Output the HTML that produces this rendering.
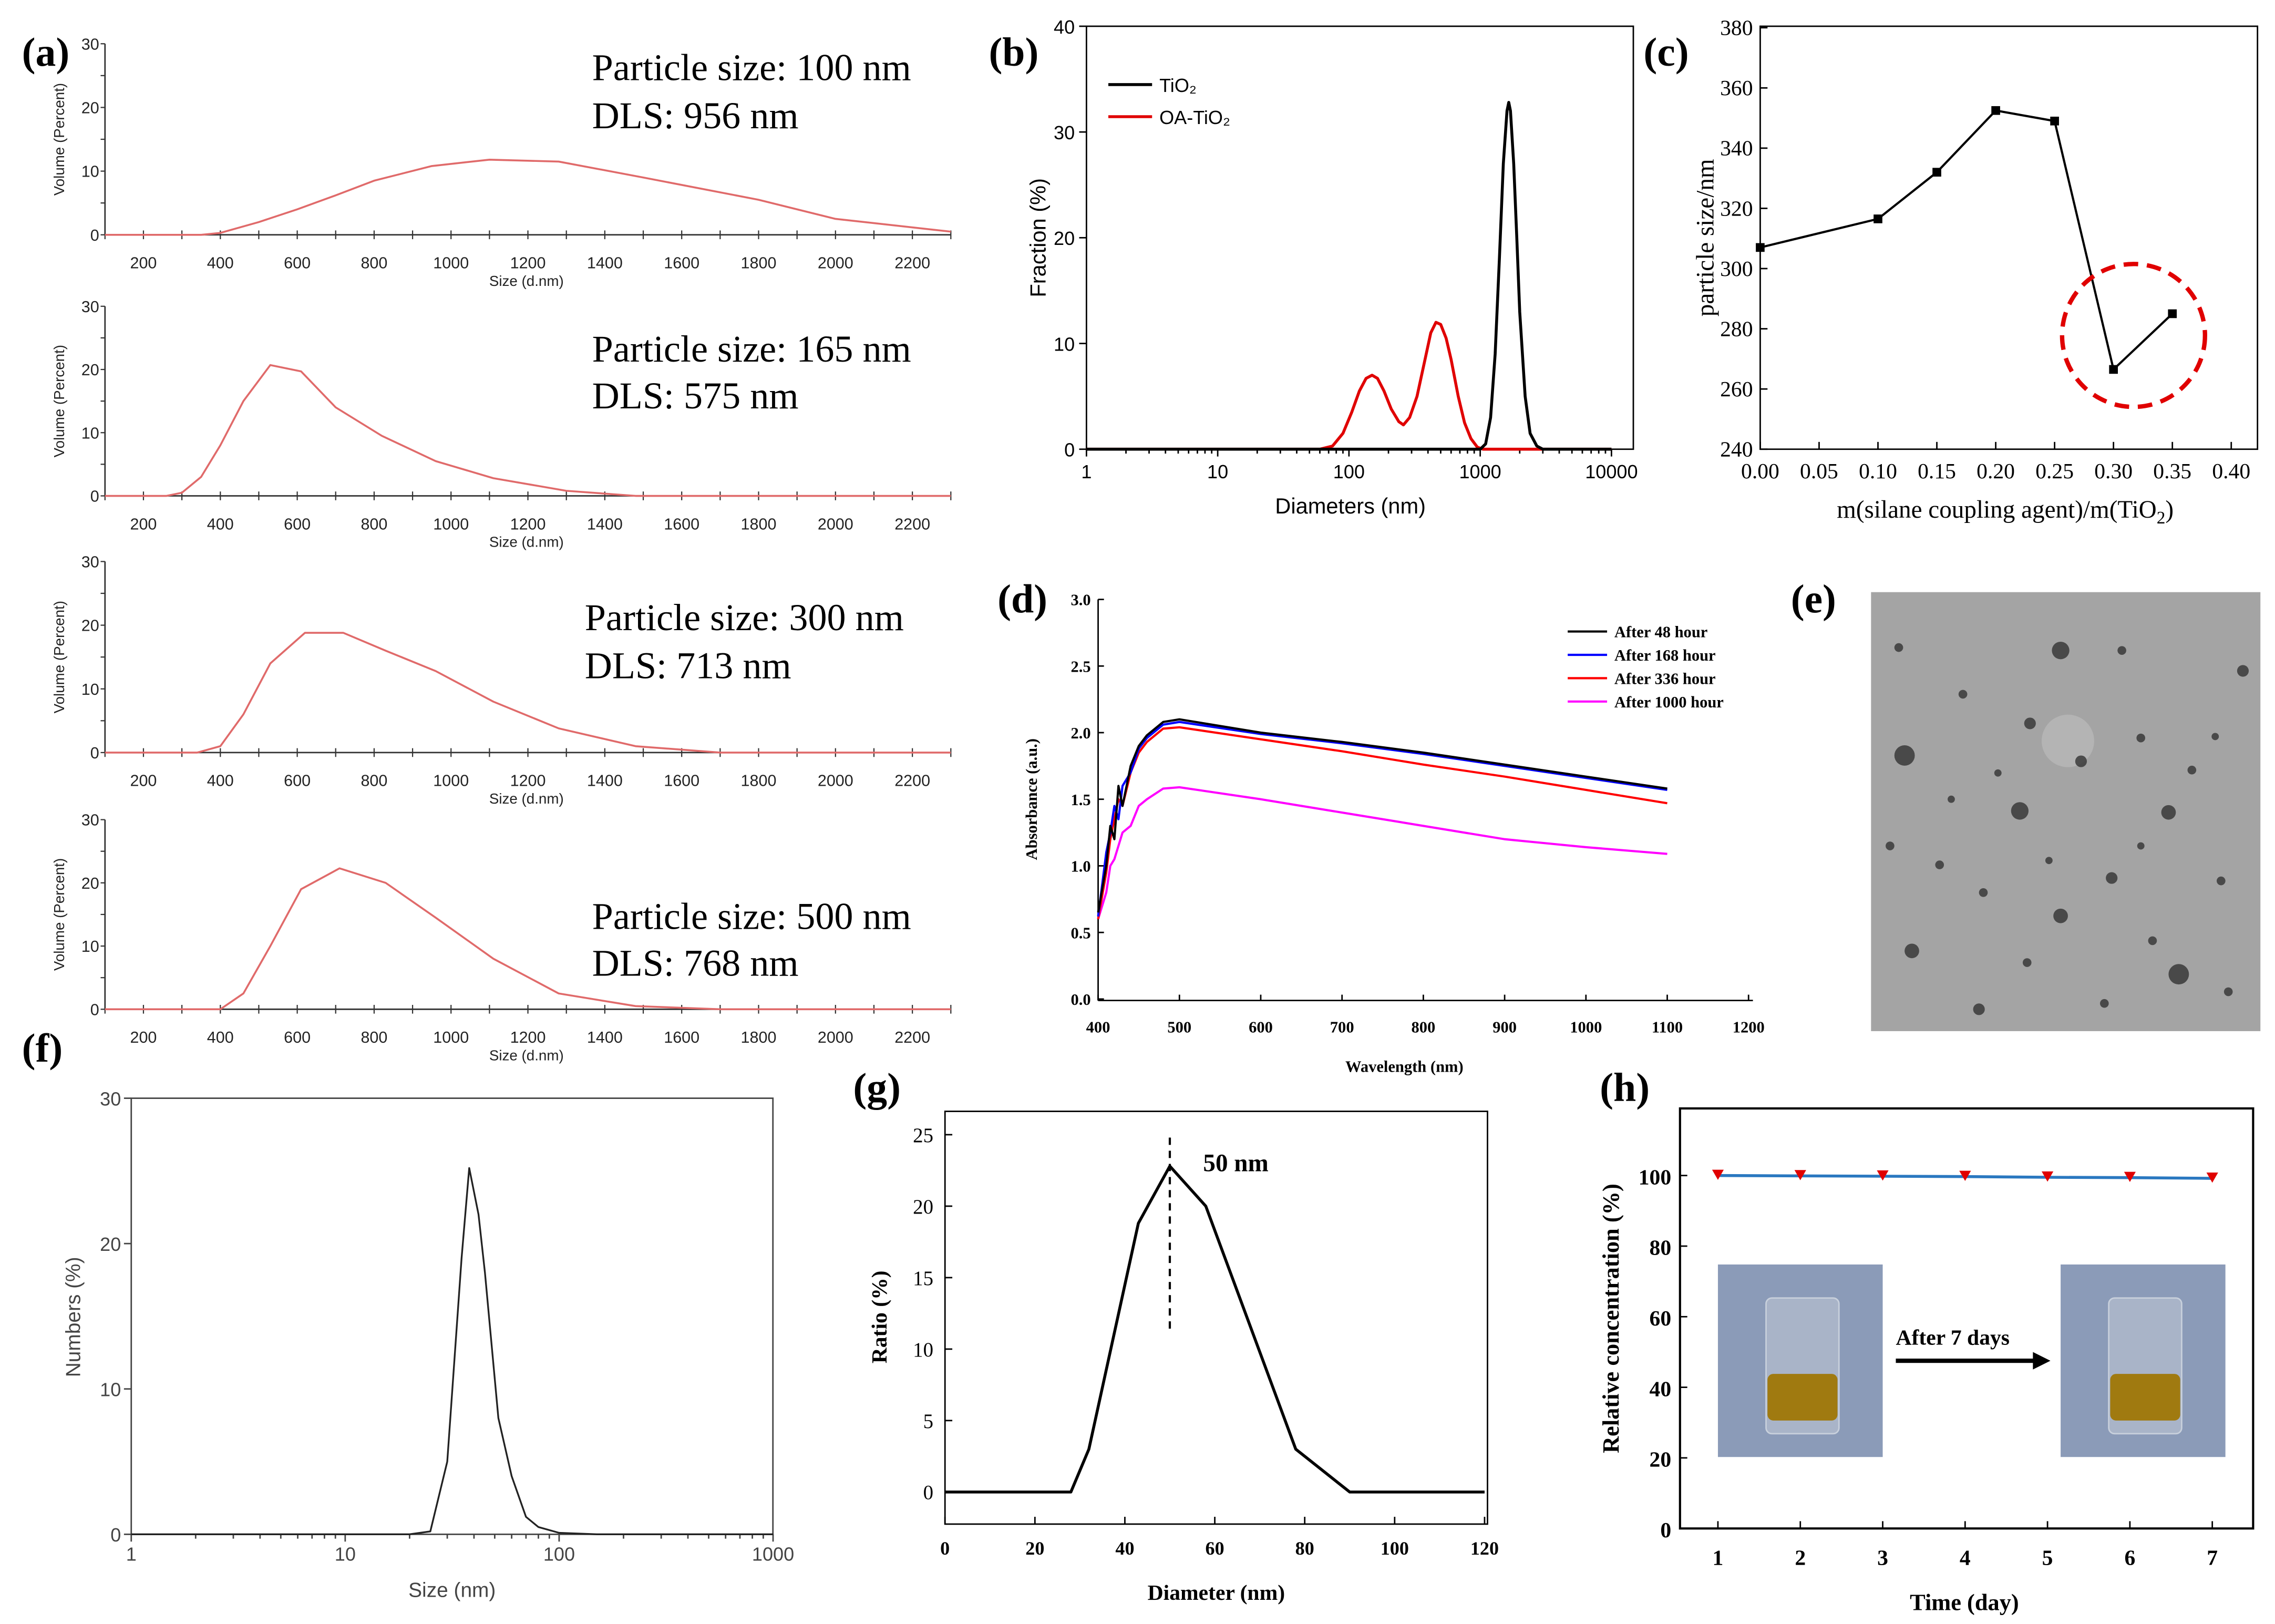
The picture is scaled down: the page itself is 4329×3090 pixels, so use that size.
<!DOCTYPE html>
<html><head><meta charset="utf-8"><style>html,body{margin:0;padding:0;background:#fff}svg{display:block}</style></head>
<body>
<svg id="fig" xmlns="http://www.w3.org/2000/svg" width="4329" height="3090" viewBox="0 0 1560 1113.5" preserveAspectRatio="none"></svg>
<script>
// ---------- data ----------
const a1x=[100,350,400,500,600,700,800,950,1100,1280,1500,1800,2000,2300];
const a1y=[0,0,0.3,2,4,6.2,8.5,10.8,11.8,11.5,9,5.5,2.5,0.5];
const a2x=[100,260,300,350,400,460,530,610,700,820,960,1110,1300,1480,2300];
const a2y=[0,0,0.5,3,8,15,20.7,19.7,14,9.5,5.5,2.8,0.8,0,0];
const a3x=[100,340,400,460,530,620,720,830,960,1110,1280,1480,1700,2300];
const a3y=[0,0,1,6,14,18.8,18.8,16,12.8,8,3.8,1,0,0];
const a4x=[100,400,460,530,610,710,830,960,1110,1280,1480,1700,2300];
const a4y=[0,0,2.5,10,19,22.3,20,14.5,8,2.5,0.5,0,0];
const aTicks=[200,400,600,800,1000,1200,1400,1600,1800,2000,2200];
const aLabels=[["Particle size: 100 nm","DLS: 956 nm"],["Particle size: 165 nm","DLS: 575 nm"],["Particle size: 300 nm","DLS: 713 nm"],["Particle size: 500 nm","DLS: 768 nm"]];
const bTiX=[1,1000,1100,1200,1300,1400,1500,1600,1650,1700,1800,1900,2000,2200,2400,2700,3000,10000];
const bTiY=[0,0,0.5,3,9,18,27,32,32.8,32,27,20,13,5,1.5,0.3,0,0];
const bOaX=[1,60,75,90,105,120,135,150,165,185,210,240,260,290,330,380,420,460,500,550,600,680,760,850,950,1050,10000];
const bOaY=[0,0,0.3,1.5,3.5,5.5,6.7,7,6.7,5.5,3.8,2.6,2.3,3,5,8.5,11,12,11.8,10.5,8.5,5,2.5,1,0.2,0,0];
const cX=[0,0.1,0.15,0.2,0.25,0.3,0.35];
const cY=[307,316.5,332,352.5,349,266.5,285];
const dX=[400,410,415,420,425,430,440,450,460,480,500,600,700,800,900,1000,1100];
const dBlack=[0.65,1.0,1.3,1.2,1.6,1.45,1.75,1.9,1.98,2.08,2.1,2.0,1.93,1.85,1.76,1.67,1.58];
const dBlue=[0.62,1.1,1.25,1.45,1.35,1.6,1.7,1.88,1.96,2.06,2.08,1.99,1.92,1.84,1.75,1.66,1.57];
const dRed=[0.6,0.95,1.2,1.35,1.5,1.45,1.7,1.85,1.93,2.03,2.04,1.95,1.86,1.76,1.67,1.57,1.47];
const dMag=[0.6,0.8,1.0,1.05,1.15,1.25,1.3,1.45,1.5,1.58,1.59,1.5,1.4,1.3,1.2,1.14,1.09];
const fX=[1,20,25,30,35,38,42,45,52,60,70,80,100,150,1000];
const fY=[0,0,0.2,5,19,25.2,22,18,8,4,1.2,0.5,0.1,0,0];
const gX=[0,28,32,43,50,58,68,78,90,120];
const gY=[0,0,3,18.8,22.8,20,11.5,3,0,0];
const hX=[1,2,3,4,5,6,7];
const hY=[100,99.9,99.8,99.7,99.5,99.4,99.2];

// ---------- helpers ----------
const NS="http://www.w3.org/2000/svg";
const svg=document.getElementById('fig');
function mk(tag,attrs,name){const e=document.createElementNS(NS,tag);for(const k in attrs)e.setAttribute(k,attrs[k]);


svg.appendChild(e);return e;}
function line(x1,y1,x2,y2,name,st,w,dash){return mk('line',{x1,y1,x2,y2,stroke:st||'#000','stroke-width':w||1,'stroke-dasharray':dash||'none'},name);}
function text(x,y,s,size,name,o){o=o||{};const t=mk('text',{x,y,'font-size':size,'font-family':o.ff||'"Liberation Serif",serif','font-weight':o.fw||'normal','text-anchor':o.a||'start',fill:o.fill||'#000'},name);
if(o.rot)t.setAttribute('transform','rotate(-90 '+x+' '+y+')');t.textContent=s;return t;}
function poly(xs,ys,fx,fy,name,st,w){const d=xs.map((v,i)=>(i?'L':'M')+fx(v).toFixed(2)+' '+fy(ys[i]).toFixed(2)).join(' ');
return mk('path',{d,fill:'none',stroke:st,'stroke-width':w||1,'stroke-linejoin':'round'},name);}
const SANS='"Liberation Sans",sans-serif';

// ---------- panel a ----------
text(15,45,'(a)',28,'panel-a-label',{fw:'bold'});
const aBase=[161,340,516,692], aTop=[30,210,385,562];
const aSeries=[[a1x,a1y],[a2x,a2y],[a3x,a3y],[a4x,a4y]];
const aTx=[[406,55,88],[406,248,280],[401,432,465],[406,637,669]];
const axA=v=>72+(v-100)*580/2200;
for(let k=0;k<4;k++){
  const b=aBase[k],t=aTop[k];const ay=v=>b-(b-t)*v/30;
  line(72,t,72,b,'a'+(k+1)+'-y-axis','#333',1);
  line(72,b,652,b,'a'+(k+1)+'-x-axis','#333',1);
  for(let v=0;v<=30;v+=5){line(69,ay(v),72,ay(v),'a-y-tick','#333',0.8);}
  for(let v=0;v<=30;v+=10){text(68,ay(v)+4,String(v),11,'a-y-tick-label',{ff:SANS,a:'end',fill:'#222'});}
  for(let v=100;v<=2300;v+=100){line(axA(v),b-3,axA(v),b+3,'a-x-tick','#333',0.8);}
  aTicks.forEach(v=>text(axA(v),b+23,String(v),11,'a-x-tick-label',{ff:SANS,a:'middle',fill:'#222'}));
  text(361,b+35,'Size (d.nm)',10,'a-x-axis-title',{ff:SANS,a:'middle',fill:'#222'});
  text(44,(b+t)/2,'Volume (Percent)',10,'a-y-axis-title',{ff:SANS,a:'middle',rot:1,fill:'#222'});
  poly(aSeries[k][0],aSeries[k][1],axA,ay,'a'+(k+1)+'-volume-line','#e06a6a',1.3);
  text(aTx[k][0],aTx[k][1],aLabels[k][0],26,'particle-size-annotation');
  text(aTx[k][0],aTx[k][2],aLabels[k][1],26,'dls-annotation');
}

// ---------- panel b ----------
text(678,45,'(b)',28,'panel-b-label',{fw:'bold'});
const bx=v=>745+Math.log10(v)*90, by=v=>308-v*290/40;
mk('rect',{x:745,y:18,width:375,height:290,fill:'none',stroke:'#000','stroke-width':1},'b-plot-frame');
for(let d=0;d<=4;d++){line(bx(Math.pow(10,d)),308,bx(Math.pow(10,d)),313,'b-x-tick');text(bx(Math.pow(10,d)),328,String(Math.pow(10,d)),13,'b-x-tick-label',{ff:SANS,a:'middle'});
 if(d<4)for(let m=2;m<10;m++)line(bx(m*Math.pow(10,d)),308,bx(m*Math.pow(10,d)),311,'b-x-minor-tick');}
for(let v=0;v<=40;v+=10){line(740,by(v),745,by(v),'b-y-tick');text(737,by(v)+5,String(v),13,'b-y-tick-label',{ff:SANS,a:'end'});}
text(717,163,'Fraction (%)',15,'b-y-axis-title',{ff:SANS,a:'middle',rot:1});
text(926,352,'Diameters (nm)',15,'b-x-axis-title',{ff:SANS,a:'middle'});
poly(bOaX,bOaY,bx,by,'b-oa-tio2-line','#e00000',2);
poly(bTiX,bTiY,bx,by,'b-tio2-line','#000',2);
line(760,58,790,58,'b-legend-tio2-swatch','#000',2);
text(795,63,'TiO\u2082',13,'b-legend-tio2',{ff:SANS});
line(760,80,790,80,'b-legend-oa-swatch','#e00000',2);
text(795,85,'OA-TiO\u2082',13,'b-legend-oa-tio2',{ff:SANS});

// ---------- panel c ----------
text(1127,45,'(c)',28,'panel-c-label',{fw:'bold'});
const cx=v=>1207+v*807.5, cy=v=>308-(v-240)*289/140;
mk('rect',{x:1207,y:18,width:341,height:290,fill:'none',stroke:'#000','stroke-width':1},'c-plot-frame');
for(let i=0;i<=8;i++){const v=i*0.05;line(cx(v),308,cx(v),303,'c-x-tick');text(cx(v),328,v.toFixed(2),15,'c-x-tick-label',{a:'middle'});}
for(let v=240;v<=380;v+=20){line(1207,cy(v),1212,cy(v),'c-y-tick');text(1202,cy(v)+5,String(v),15,'c-y-tick-label',{a:'end'});}
text(1175,163,'particle size/nm',17,'c-y-axis-title',{a:'middle',rot:1});
const ct=text(1375,355,'',17,'c-x-axis-title',{a:'middle'});
const s1=document.createElementNS(NS,'tspan');s1.textContent='m(silane coupling agent)/m(TiO';ct.appendChild(s1);
const s2=document.createElementNS(NS,'tspan');s2.setAttribute('font-size','12');s2.setAttribute('dy','4');s2.textContent='2';ct.appendChild(s2);
const s3=document.createElementNS(NS,'tspan');s3.setAttribute('dy','-4');s3.textContent=')';ct.appendChild(s3);
poly(cX,cY,cx,cy,'c-size-line','#000',1.5);
cX.forEach((v,i)=>mk('rect',{x:cx(v)-3,y:cy(cY[i])-3,width:6,height:6,fill:'#000'},'c-point'));
mk('circle',{cx:1463,cy:230,r:49,fill:'none',stroke:'#e00000','stroke-width':3,'stroke-dasharray':'10 6'},'c-highlight-circle');

// ---------- panel d ----------
text(684,420,'(d)',28,'panel-d-label',{fw:'bold'});
const dx=v=>753+(v-400)*0.5575, dy=v=>685-v*274/3;
line(753,411,753,686,'d-y-axis');line(753,686,1202,686,'d-x-axis');
for(let v=0;v<=3.001;v+=0.5){line(753,dy(v),757,dy(v),'d-y-tick');text(748,dy(v)+4,v.toFixed(1),11,'d-y-tick-label',{a:'end',fw:'bold'});}
for(let v=400;v<=1200;v+=100){line(dx(v),686,dx(v),682,'d-x-tick');text(dx(v),708,String(v),11,'d-x-tick-label',{a:'middle',fw:'bold'});}
text(711,548,'Absorbance (a.u.)',11,'d-y-axis-title',{a:'middle',rot:1,fw:'bold'});
text(963,735,'Wavelength (nm)',11,'d-x-axis-title',{a:'middle',fw:'bold'});
poly(dX,dMag,dx,dy,'d-1000h-line','#ff00ff',1.5);
poly(dX,dRed,dx,dy,'d-336h-line','#ff0000',1.5);
poly(dX,dBlue,dx,dy,'d-168h-line','#0000ff',1.5);
poly(dX,dBlack,dx,dy,'d-48h-line','#000',1.5);
[['After 48 hour','#000'],['After 168 hour','#0000ff'],['After 336 hour','#ff0000'],['After 1000 hour','#ff00ff']].forEach((l,i)=>{
 line(1075,433+16*i,1102,433+16*i,'d-legend-swatch',l[1],1.5);text(1107,437+16*i,l[0],11,'d-legend-entry',{fw:'bold'});});

// ---------- panel e (TEM image) ----------
text(1228,420,'(e)',28,'panel-e-label',{fw:'bold'});
mk('rect',{x:1283,y:406,width:267,height:301,fill:'#a4a4a4'},'e-tem-image');
mk('circle',{cx:1418,cy:508,r:18,fill:'#b4b4b4'},'e-bright-spot');
[[1306,518,7],[1413,446,6],[1385,556,6],[1487,557,5],[1494,668,7],[1413,628,5],[1538,460,4],[1311,652,5],[1357,692,4],[1330,593,3],[1448,602,4],[1503,528,3],[1392,496,4],[1427,522,4],[1468,506,3],[1346,476,3],[1523,604,3],[1360,612,3],[1455,446,3],[1302,444,3],[1528,680,3],[1370,530,2.5],[1405,590,2.5],[1476,645,3],[1338,548,2.5],[1443,688,3],[1519,505,2.5],[1390,660,3],[1296,580,3],[1468,580,2.5]].forEach(p=>
 mk('circle',{cx:p[0],cy:p[1],r:p[2],fill:'#3a3a3a',opacity:0.85},'e-nanoparticle'));

// ---------- panel f ----------
text(15,728,'(f)',28,'panel-f-label',{fw:'bold'});
const fx=v=>90+Math.log10(v)*146.7, fy=v=>1052-v*299/30;
mk('rect',{x:90,y:753,width:440,height:299,fill:'none',stroke:'#444','stroke-width':1},'f-plot-frame');
for(let d=0;d<=3;d++){line(fx(Math.pow(10,d)),1052,fx(Math.pow(10,d)),1057,'f-x-tick','#444');text(fx(Math.pow(10,d)),1070,String(Math.pow(10,d)),13,'f-x-tick-label',{ff:SANS,a:'middle',fill:'#444'});
 if(d<3)for(let m=2;m<10;m++)line(fx(m*Math.pow(10,d)),1052,fx(m*Math.pow(10,d)),1055,'f-x-minor-tick','#444');}
for(let v=0;v<=30;v+=10){line(85,fy(v),90,fy(v),'f-y-tick','#444');text(83,fy(v)+5,String(v),13,'f-y-tick-label',{ff:SANS,a:'end',fill:'#444'});}
text(55,903,'Numbers (%)',14,'f-y-axis-title',{ff:SANS,a:'middle',rot:1,fill:'#444'});
text(310,1095,'Size (nm)',14,'f-x-axis-title',{ff:SANS,a:'middle',fill:'#444'});
poly(fX,fY,fx,fy,'f-number-line','#222',1.2);

// ---------- panel g ----------
text(585,755,'(g)',28,'panel-g-label',{fw:'bold'});
const gx=v=>648+v*370/120, gy=v=>1023-v*9.8;
mk('rect',{x:648,y:762,width:372,height:283,fill:'none',stroke:'#000','stroke-width':1},'g-plot-frame');
for(let v=0;v<=120;v+=20){line(gx(v),1045,gx(v),1040,'g-x-tick');text(gx(v),1066,String(v),13,'g-x-tick-label',{a:'middle',fw:'bold'});}
for(let v=0;v<=25;v+=5){line(648,gy(v),653,gy(v),'g-y-tick');text(640,gy(v)+5,String(v),14,'g-y-tick-label',{a:'end'});}
text(608,903,'Ratio (%)',15,'g-y-axis-title',{a:'middle',rot:1,fw:'bold'});
text(834,1097,'Diameter (nm)',15,'g-x-axis-title',{a:'middle',fw:'bold'});
poly(gX,gY,gx,gy,'g-ratio-line','#000',2);
line(gx(50),780,gx(50),912,'g-peak-marker','#000',1.5,'5 4');
text(825,803,'50 nm',17,'g-peak-label',{fw:'bold'});

// ---------- panel h ----------
text(1097,755,'(h)',28,'panel-h-label',{fw:'bold'});
const hx=v=>1178+(v-1)*56.5, hy=v=>1048-v*2.42;
mk('rect',{x:1152,y:760,width:393,height:288,fill:'none',stroke:'#000','stroke-width':1.5},'h-plot-frame');
for(let v=1;v<=7;v++){line(hx(v),1048,hx(v),1043,'h-x-tick');text(hx(v),1073,String(v),15,'h-x-tick-label',{a:'middle',fw:'bold'});}
for(let v=0;v<=100;v+=20){line(1152,hy(v),1157,hy(v),'h-y-tick');text(1146,hy(v)+6,String(v),15,'h-y-tick-label',{a:'end',fw:'bold'});}
text(1110,904,'Relative concentration (%)',16,'h-y-axis-title',{a:'middle',rot:1,fw:'bold'});
text(1347,1104,'Time (day)',16,'h-x-axis-title',{a:'middle',fw:'bold'});
poly(hX,hY,hx,hy,'h-concentration-line','#2a78c0',2);
hX.forEach((v,i)=>mk('path',{d:`M${hx(v)-4} ${hy(hY[i])-4} L${hx(v)+4} ${hy(hY[i])-4} L${hx(v)} ${hy(hY[i])+3} Z`,fill:'#e00000'},'h-point'));
[1178,1413].forEach((x0,i)=>{
 mk('rect',{x:x0,y:867,width:113,height:132,fill:'#8b9bb8'},i?'h-photo-after':'h-photo-before');
 mk('rect',{x:x0+33,y:890,width:50,height:93,fill:'#a9b4c8',stroke:'#c8d0dc','stroke-width':1,rx:4},'h-beaker');
 mk('rect',{x:x0+34,y:942,width:48,height:32,fill:'#a07a10',rx:4},'h-oil-liquid');});
line(1300,933,1396,933,'h-arrow-line','#000',3);
mk('path',{d:'M1394 927 L1406 933 L1394 939 Z',fill:'#000'},'h-arrow-head');
text(1300,922,'After 7 days',15,'h-arrow-label',{fw:'bold'});
</script>
</body></html>
